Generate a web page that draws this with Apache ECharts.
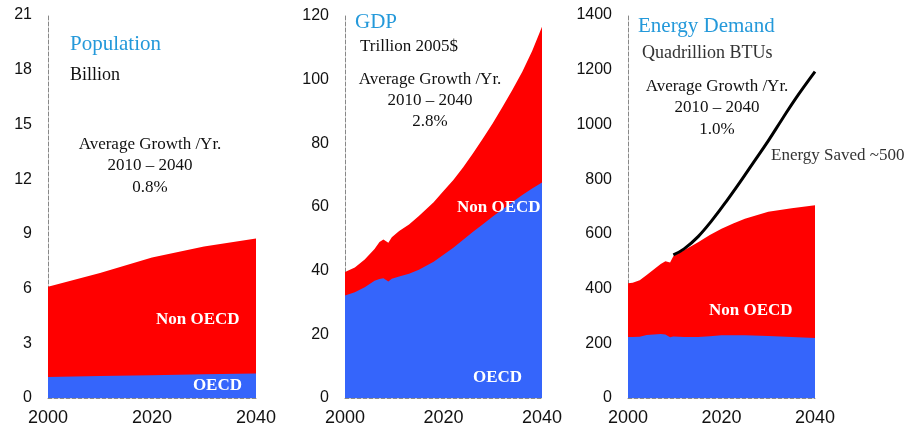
<!DOCTYPE html>
<html>
<head>
<meta charset="utf-8">
<script src="https://cdn.jsdelivr.net/npm/echarts@6/dist/echarts.min.js"></script>
<style>
  html, body { margin: 0; padding: 0; background: #fff; }
  #chart { width: 916px; height: 433px; }
</style>
</head>
<body>
<div id="chart"></div>
<script>
// population, billion
const popYears = [2000, 2010, 2020, 2030, 2040];
const popTotal = [6.1, 6.85, 7.7, 8.3, 8.75];
const popOecd = [1.15, 1.2, 1.25, 1.3, 1.35];

// gdp, trillion 2005$
const gdpYears = [2000, 2002, 2004, 2006, 2007, 2007.8, 2008.8, 2009.5, 2011, 2013, 2015, 2018, 2020, 2022, 2024, 2026, 2028, 2030, 2032, 2034, 2036, 2038, 2040];
const gdpTotal = [39.6, 41.0, 43.5, 46.8, 49.0, 49.8, 48.8, 50.5, 52.5, 54.5, 57.2, 61.5, 65.0, 68.5, 72.5, 76.9, 81.5, 86.3, 91.5, 96.8, 102.5, 109.0, 116.6];
const gdpOecd = [32.2, 33.2, 34.8, 36.8, 37.4, 37.6, 36.6, 37.5, 38.2, 39.0, 40.3, 42.8, 45.0, 47.2, 49.7, 52.2, 54.6, 57.0, 59.3, 61.6, 63.8, 65.8, 67.7];

// energy demand, quadrillion BTUs
const enYears = [2000, 2001, 2002.5, 2004, 2005.5, 2007, 2008, 2009, 2009.7, 2012, 2015, 2017.5, 2020, 2022.5, 2025, 2030, 2035, 2040];
const enTotal = [419, 421, 430, 450, 470, 490, 500, 495, 518, 540, 569, 596, 619, 638, 655, 681, 694, 705];
const enOecd = [223, 223, 224, 230, 232, 234, 232, 222, 225, 223, 223, 226, 229, 229, 229, 227, 223, 219];
const savedYears = [2009.7, 2012, 2015, 2018, 2021, 2024, 2027, 2030, 2033, 2036, 2040];
const savedLine = [523, 545, 590, 650, 718, 790, 865, 940, 1020, 1098, 1193];

const yTicks = [
  { max: 21, interval: 3 },
  { max: 120, interval: 20 },
  { max: 1400, interval: 200 }
];

const RED = '#ff0000';
const BLUE = '#3565fb';
const TITLE = '#2499da';
const SERIF = '"Liberation Serif", "Times New Roman", serif';
const SANS = '"Liberation Sans", Arial, sans-serif';

function pairs(xs, ys) {
  return xs.map((x, i) => [x, ys[i]]);
}

function area(idx, name, xs, ys, color) {
  return {
    name: name,
    type: 'line',
    xAxisIndex: idx,
    yAxisIndex: idx,
    data: pairs(xs, ys),
    showSymbol: false,
    lineStyle: { width: 0 },
    areaStyle: { color: color, opacity: 1 },
    silent: true
  };
}

function txt(x, y, s, size, color, opts) {
  opts = opts || {};
  return {
    type: 'text',
    x: x,
    y: y,
    silent: true,
    z: 100,
    style: {
      text: s,
      fill: color,
      font: (opts.bold ? 'bold ' : '') + size + 'px ' + SERIF,
      textAlign: opts.align || 'left',
      textVerticalAlign: 'middle'
    }
  };
}

const grids = [
  { left: 48, top: 15, width: 208, height: 383 },
  { left: 345, top: 16, width: 197, height: 382 },
  { left: 628, top: 15, width: 187, height: 383 }
];

const dashed = { color: '#888', type: 'dashed', width: 1 };

const xAxes = grids.map((g, i) => ({
  type: 'value',
  gridIndex: i,
  min: 2000,
  max: 2040,
  interval: 20,
  axisLine: { show: true, lineStyle: dashed },
  axisTick: { show: false },
  splitLine: { show: false },
  axisLabel: { fontSize: 18, color: '#111', margin: 11, fontFamily: SANS, formatter: v => String(v) }
}));

const yAxes = grids.map((g, i) => ({
  type: 'value',
  gridIndex: i,
  min: 0,
  max: yTicks[i].max,
  interval: yTicks[i].interval,
  axisLine: { show: true, lineStyle: dashed },
  axisTick: { show: false },
  splitLine: { show: false },
  axisLabel: { fontSize: 16, color: '#111', margin: 16, fontFamily: SANS, formatter: v => String(v) }
}));

const chart = echarts.init(document.getElementById('chart'));

chart.setOption({
  animation: false,
  backgroundColor: '#fff',
  grid: grids,
  xAxis: xAxes,
  yAxis: yAxes,
  series: [
    area(0, 'Non OECD', popYears, popTotal, RED),
    area(0, 'OECD', popYears, popOecd, BLUE),
    area(1, 'Non OECD', gdpYears, gdpTotal, RED),
    area(1, 'OECD', gdpYears, gdpOecd, BLUE),
    area(2, 'Non OECD', enYears, enTotal, RED),
    area(2, 'OECD', enYears, enOecd, BLUE),
    {
      name: 'Energy Saved',
      type: 'line',
      xAxisIndex: 2,
      yAxisIndex: 2,
      data: pairs(savedYears, savedLine),
      smooth: 0.4,
      showSymbol: false,
      lineStyle: { color: '#000', width: 3 },
      z: 5,
      silent: true
    }
  ],
  graphic: [
    // population panel
    txt(70, 44, 'Population', 21, TITLE),
    txt(70, 75, 'Billion', 18, '#111'),
    txt(150, 145, 'Average Growth /Yr.', 17, '#111', { align: 'center' }),
    txt(150, 166, '2010 \u2013 2040', 17, '#111', { align: 'center' }),
    txt(150, 188, '0.8%', 17, '#111', { align: 'center' }),
    txt(156, 320, 'Non OECD', 17, '#fff', { bold: true }),
    txt(242, 386, 'OECD', 17, '#fff', { bold: true, align: 'right' }),
    // gdp panel
    txt(355, 22, 'GDP', 21, TITLE),
    txt(360, 47, 'Trillion 2005$', 17, '#111'),
    txt(430, 80, 'Average Growth /Yr.', 17, '#111', { align: 'center' }),
    txt(430, 101, '2010 \u2013 2040', 17, '#111', { align: 'center' }),
    txt(430, 122, '2.8%', 17, '#111', { align: 'center' }),
    txt(457, 208, 'Non OECD', 17, '#fff', { bold: true }),
    txt(473, 378, 'OECD', 17, '#fff', { bold: true }),
    // energy panel
    txt(638, 26, 'Energy Demand', 21, TITLE),
    txt(642, 53, 'Quadrillion BTUs', 18, '#333'),
    txt(717, 87, 'Average Growth /Yr.', 17, '#111', { align: 'center' }),
    txt(717, 108, '2010 \u2013 2040', 17, '#111', { align: 'center' }),
    txt(717, 130, '1.0%', 17, '#111', { align: 'center' }),
    txt(771, 156, 'Energy Saved ~500', 17, '#333'),
    txt(709, 311, 'Non OECD', 17, '#fff', { bold: true })
  ]
});
</script>
</body>
</html>
